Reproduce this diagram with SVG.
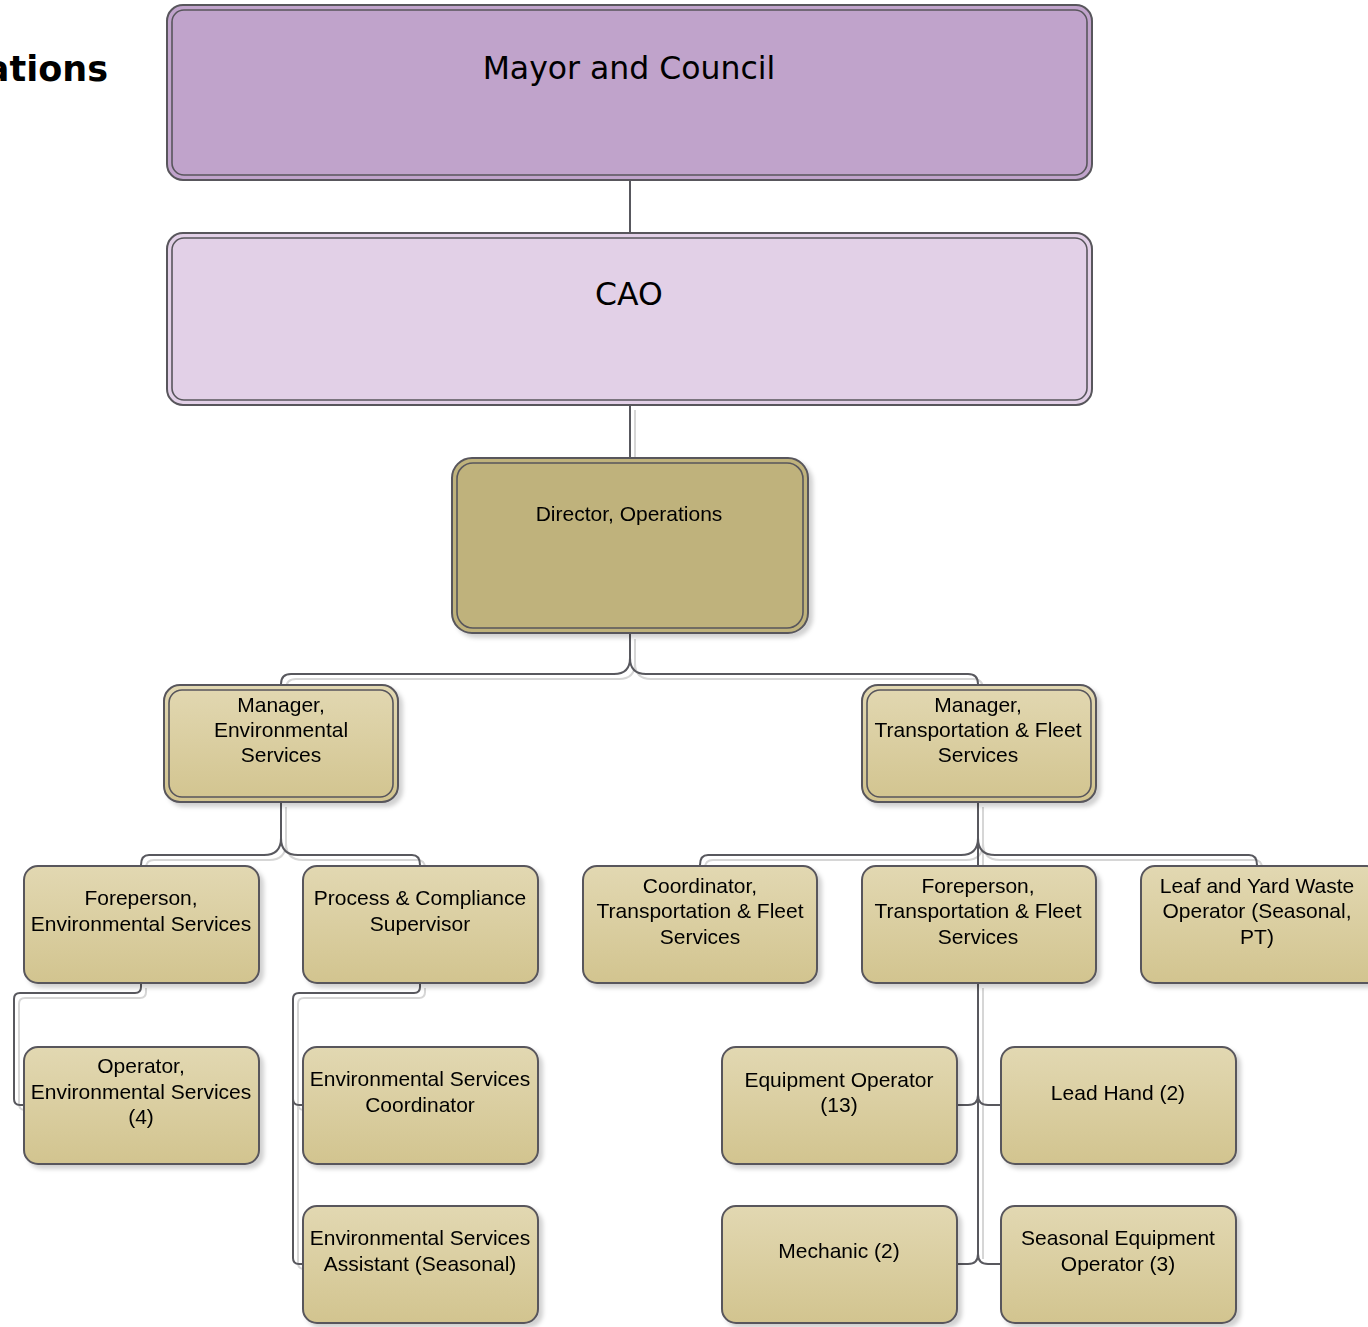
<svg xmlns="http://www.w3.org/2000/svg" width="1368" height="1327" viewBox="0 0 1368 1327">
  <defs>
    <linearGradient id="tan" x1="0" y1="0" x2="0" y2="1">
      <stop offset="0" stop-color="#E2D8B2"/>
      <stop offset="1" stop-color="#D2C48F"/>
    </linearGradient>
    <filter id="shadow" x="-10%" y="-10%" width="130%" height="130%">
      <feDropShadow dx="4" dy="4" stdDeviation="2" flood-color="#000" flood-opacity="0.18"/>
    </filter>
  </defs>
  <style>
    .box { stroke: #58565C; stroke-width: 2; }
    .inner { fill: none; stroke: #58565C; stroke-width: 1.6; }
    .tan { fill: url(#tan); }
    .lbl { font-family: "Liberation Sans", Arial, sans-serif; font-size: 21px; fill: #000; text-anchor: middle; }
    .big { font-family: "DejaVu Sans", Verdana, sans-serif; font-size: 31.5px; fill: #000; text-anchor: middle; }
    .wire { fill: none; stroke: #58585E; stroke-width: 2; }
    .wire-shade { fill: none; stroke: #D6D6D6; stroke-width: 2; }
  </style>

  <rect width="1368" height="1327" fill="#FFFFFF"/>

  <!-- page heading, partly outside the left edge -->
  <text x="108" y="81" font-family="DejaVu Sans, Verdana, sans-serif" font-weight="bold" font-size="35" text-anchor="end" fill="#000">Operations</text>

  <!-- connectors: soft offset copy first, then the lines -->
  <g id="connectors">
    <g class="wire-shade" transform="translate(5,5)">
      <path d="M630 405 V458"/>
      <path d="M630 634 V658 Q630 674 614 674 H291 Q281 674 281 684"/>
      <path d="M630 634 V658 Q630 674 646 674 H968 Q978 674 978 684"/>
      <path d="M281 802 V838 Q281 855 264 855 H149 Q141 855 141 863"/>
      <path d="M281 802 V838 Q281 855 298 855 H412 Q420 855 420 863"/>
      <path d="M978 802 V838 Q978 855 961 855 H708 Q700 855 700 863"/>
      <path d="M978 802 V865"/>
      <path d="M978 802 V838 Q978 855 995 855 H1249 Q1257 855 1257 863"/>
      <path d="M141 983 V987 Q141 993 135 993 H20 Q14 993 14 999 V1099 Q14 1105 20 1105 H24"/>
      <path d="M420 983 V987 Q420 993 414 993 H299 Q293 993 293 999 V1258 Q293 1264 299 1264 H303"/>
      <path d="M293 1099 Q293 1105 299 1105 H303"/>
      <path d="M978 983 V1254"/>
    </g>
    <g class="wire">
      <path d="M630 180 V233"/>
      <path d="M630 405 V458"/>
      <path d="M630 634 V658 Q630 674 614 674 H291 Q281 674 281 684"/>
      <path d="M630 634 V658 Q630 674 646 674 H968 Q978 674 978 684"/>
      <path d="M281 802 V838 Q281 855 264 855 H149 Q141 855 141 865"/>
      <path d="M281 802 V838 Q281 855 298 855 H412 Q420 855 420 865"/>
      <path d="M978 802 V838 Q978 855 961 855 H708 Q700 855 700 865"/>
      <path d="M978 802 V865"/>
      <path d="M978 802 V838 Q978 855 995 855 H1249 Q1257 855 1257 865"/>
      <path d="M141 983 V987 Q141 993 135 993 H20 Q14 993 14 999 V1099 Q14 1105 20 1105 H24"/>
      <path d="M420 983 V987 Q420 993 414 993 H299 Q293 993 293 999 V1258 Q293 1264 299 1264 H303"/>
      <path d="M293 1099 Q293 1105 299 1105 H303"/>
      <path d="M978 983 V1254"/>
      <path d="M978 1095 Q978 1105 968 1105 H957"/>
      <path d="M978 1095 Q978 1105 988 1105 H1001"/>
      <path d="M978 1254 Q978 1264 968 1264 H957"/>
      <path d="M978 1254 Q978 1264 988 1264 H1001"/>
    </g>
  </g>

  <!-- governing level -->
  <g id="mayor-council">
    <rect class="box" x="167" y="5" width="925" height="175" rx="16" fill="#C0A3CB"/>
    <rect class="inner" x="172" y="10" width="915" height="165" rx="12"/>
    <text class="big" x="629" y="79">Mayor and Council</text>
  </g>

  <g id="cao">
    <rect class="box" x="167" y="233" width="925" height="172" rx="16" fill="#E2D0E7"/>
    <rect class="inner" x="172" y="238" width="915" height="162" rx="12"/>
    <text class="big" x="629" y="305">CAO</text>
  </g>

  <g id="director" filter="url(#shadow)">
    <rect class="box" x="452" y="458" width="356" height="175" rx="20" fill="#BFB27B"/>
    <rect class="inner" x="457" y="463" width="346" height="165" rx="16"/>
    <text class="lbl" x="629" y="521" font-size="20">Director, Operations</text>
  </g>

  <!-- managers -->
  <g id="manager-env" filter="url(#shadow)">
    <rect class="box tan" x="164" y="685" width="234" height="117" rx="16"/>
    <rect class="inner" x="169" y="690" width="224" height="107" rx="13"/>
    <text class="lbl" x="281" y="712">Manager,</text>
    <text class="lbl" x="281" y="737">Environmental</text>
    <text class="lbl" x="281" y="762">Services</text>
  </g>

  <g id="manager-tfs" filter="url(#shadow)">
    <rect class="box tan" x="862" y="685" width="234" height="117" rx="16"/>
    <rect class="inner" x="867" y="690" width="224" height="107" rx="13"/>
    <text class="lbl" x="978" y="712">Manager,</text>
    <text class="lbl" x="978" y="737">Transportation &amp; Fleet</text>
    <text class="lbl" x="978" y="762">Services</text>
  </g>

  <!-- supervisory level -->
  <g id="foreperson-env" filter="url(#shadow)">
    <rect class="box tan" x="24" y="866" width="235" height="117" rx="14"/>
    <text class="lbl" x="141" y="905">Foreperson,</text>
    <text class="lbl" x="141" y="931">Environmental Services</text>
  </g>

  <g id="process-compliance" filter="url(#shadow)">
    <rect class="box tan" x="303" y="866" width="235" height="117" rx="14"/>
    <text class="lbl" x="420" y="905">Process &amp; Compliance</text>
    <text class="lbl" x="420" y="931">Supervisor</text>
  </g>

  <g id="coordinator-tfs" filter="url(#shadow)">
    <rect class="box tan" x="583" y="866" width="234" height="117" rx="14"/>
    <text class="lbl" x="700" y="893">Coordinator,</text>
    <text class="lbl" x="700" y="918">Transportation &amp; Fleet</text>
    <text class="lbl" x="700" y="944">Services</text>
  </g>

  <g id="foreperson-tfs" filter="url(#shadow)">
    <rect class="box tan" x="862" y="866" width="234" height="117" rx="14"/>
    <text class="lbl" x="978" y="893">Foreperson,</text>
    <text class="lbl" x="978" y="918">Transportation &amp; Fleet</text>
    <text class="lbl" x="978" y="944">Services</text>
  </g>

  <g id="leaf-yard" filter="url(#shadow)">
    <rect class="box tan" x="1141" y="866" width="240" height="117" rx="14"/>
    <text class="lbl" x="1257" y="893">Leaf and Yard Waste</text>
    <text class="lbl" x="1257" y="918">Operator (Seasonal,</text>
    <text class="lbl" x="1257" y="944">PT)</text>
  </g>

  <!-- front-line staff -->
  <g id="operator-env" filter="url(#shadow)">
    <rect class="box tan" x="24" y="1047" width="235" height="117" rx="14"/>
    <text class="lbl" x="141" y="1073">Operator,</text>
    <text class="lbl" x="141" y="1099">Environmental Services</text>
    <text class="lbl" x="141" y="1124">(4)</text>
  </g>

  <g id="env-coordinator" filter="url(#shadow)">
    <rect class="box tan" x="303" y="1047" width="235" height="117" rx="14"/>
    <text class="lbl" x="420" y="1086">Environmental Services</text>
    <text class="lbl" x="420" y="1112">Coordinator</text>
  </g>

  <g id="env-assistant" filter="url(#shadow)">
    <rect class="box tan" x="303" y="1206" width="235" height="117" rx="14"/>
    <text class="lbl" x="420" y="1245">Environmental Services</text>
    <text class="lbl" x="420" y="1271">Assistant (Seasonal)</text>
  </g>

  <g id="equipment-operator" filter="url(#shadow)">
    <rect class="box tan" x="722" y="1047" width="235" height="117" rx="14"/>
    <text class="lbl" x="839" y="1087">Equipment Operator</text>
    <text class="lbl" x="839" y="1112">(13)</text>
  </g>

  <g id="lead-hand" filter="url(#shadow)">
    <rect class="box tan" x="1001" y="1047" width="235" height="117" rx="14"/>
    <text class="lbl" x="1118" y="1100">Lead Hand (2)</text>
  </g>

  <g id="mechanic" filter="url(#shadow)">
    <rect class="box tan" x="722" y="1206" width="235" height="117" rx="14"/>
    <text class="lbl" x="839" y="1258">Mechanic (2)</text>
  </g>

  <g id="seasonal-operator" filter="url(#shadow)">
    <rect class="box tan" x="1001" y="1206" width="235" height="117" rx="14"/>
    <text class="lbl" x="1118" y="1245">Seasonal Equipment</text>
    <text class="lbl" x="1118" y="1271">Operator (3)</text>
  </g>
</svg>
